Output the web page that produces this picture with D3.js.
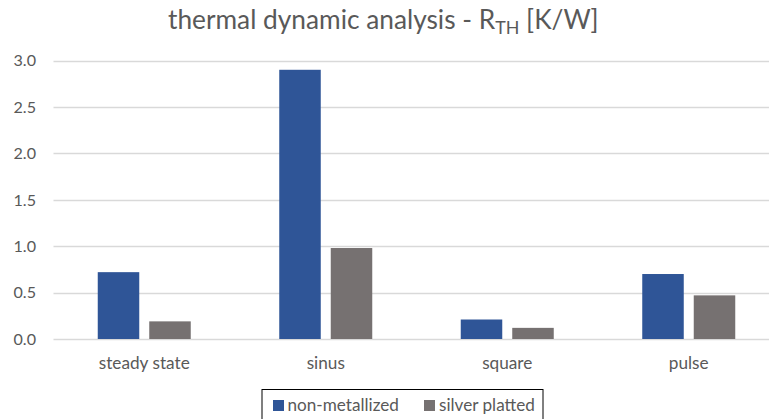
<!DOCTYPE html>
<html><head><meta charset="utf-8">
<script src="https://cdn.jsdelivr.net/npm/d3@7"></script>
<style>
html,body{margin:0;padding:0;background:#fff;overflow:hidden}
text{font-family:Lato,"Open Sans",sans-serif}
</style></head>
<body>
<svg id="chart" width="769" height="419"></svg>
<script>
const categories = ["steady state", "sinus", "square", "pulse"];
const seriesNames = ["non-metallized", "silver platted"];
const nonMetallized = [0.72, 2.90, 0.21, 0.70];
const silverPlatted = [0.19, 0.98, 0.12, 0.47];
const yTicks = [0, 0.5, 1.0, 1.5, 2.0, 2.5, 3.0];
const colors = ["#2F5597", "#767171"];

(function () {
const svg = d3.select("#chart");
const plotLeft = 53.5, plotRight = 779.5, plotTop = 60.5, plotBottom = 339;

// font size that makes a string a given width
function fitSize(str, width) {
  const t = svg.append("text").attr("font-size", 100).text(str);
  const w = t.node().getComputedTextLength();
  t.remove();
  return 100 * width / w;
}
const catSize = fitSize("steady state", 91);
const tickSize = fitSize("3.0", 22.5);
const legSize = fitSize("non-metallized", 111.5);

const y = d3.scaleLinear().domain([0, 3]).range([plotBottom, plotTop]);
const x0 = d3.scaleBand().domain(categories).range([plotLeft, plotRight]).padding(0);
const x1 = d3.scaleBand().domain(seriesNames).range([44.25, 137.25]).paddingInner(0.194).paddingOuter(0);

// gridlines
svg.append("g").selectAll("line").data(yTicks).join("line")
  .attr("x1", plotLeft).attr("x2", plotRight)
  .attr("y1", d => Math.round(y(d)) + 0.5).attr("y2", d => Math.round(y(d)) + 0.5)
  .attr("stroke", "#d9d9d9").attr("stroke-width", 1.3);

// y tick labels
svg.append("g").selectAll("text").data(yTicks).join("text")
  .attr("x", 36).attr("y", d => y(d)).attr("dy", "0.36em")
  .attr("text-anchor", "end").attr("fill", "#595959").attr("font-size", tickSize)
  .text(d => d3.format(".1f")(d));

// bars
const data = categories.map((c, i) => ({cat: c, vals: [nonMetallized[i], silverPlatted[i]]}));
const g = svg.append("g").selectAll("g").data(data).join("g")
  .attr("transform", d => `translate(${x0(d.cat)},0)`);
g.selectAll("rect").data(d => d.vals.map((v, j) => ({s: seriesNames[j], v, j}))).join("rect")
  .attr("x", d => x1(d.s)).attr("width", x1.bandwidth())
  .attr("y", d => y(d.v)).attr("height", d => y(0) - y(d.v))
  .attr("fill", d => colors[d.j]);

// category labels
svg.append("g").selectAll("text").data(categories).join("text")
  .attr("x", d => x0(d) + x0.bandwidth() / 2).attr("y", 368.5)
  .attr("text-anchor", "middle").attr("fill", "#595959").attr("font-size", catSize)
  .text(d => d);

// title
const title = svg.append("text").attr("x", 168).attr("y", 29)
  .attr("text-anchor", "start").attr("fill", "#595959").attr("font-size", 100);
title.append("tspan").text("thermal dynamic analysis - R");
title.append("tspan").attr("font-size", 68).attr("dy", 18).text("TH");
title.append("tspan").attr("dy", -18).text(" [K/W]");
const tw = title.node().getComputedTextLength();
const s = 431 / tw;
title.attr("font-size", 100 * s);
title.selectAll("tspan").filter((d, i) => i === 1).attr("font-size", 68 * s).attr("dy", 18 * s);
title.selectAll("tspan").filter((d, i) => i === 2).attr("dy", -18 * s);

// legend
const lg = svg.append("g");
lg.append("rect").attr("x", 262).attr("y", 389.5).attr("width", 281).attr("height", 40)
  .attr("fill", "#fff").attr("stroke", "#000").attr("stroke-width", 1);
const items = [{name: seriesNames[0], sx: 273, tx: 287.5}, {name: seriesNames[1], sx: 424, tx: 439}];
items.forEach((it, j) => {
  lg.append("rect").attr("x", it.sx).attr("y", 400).attr("width", 11).attr("height", 11).attr("fill", colors[j]);
  lg.append("text").attr("x", it.tx).attr("y", 411).attr("fill", "#595959").attr("font-size", legSize).text(it.name);
});
})();
</script>
</body></html>
